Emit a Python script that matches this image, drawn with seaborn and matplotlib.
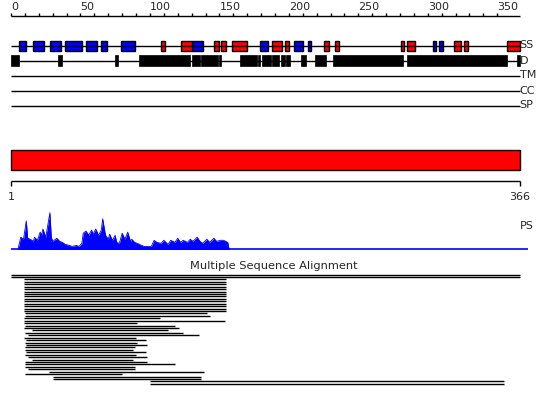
import matplotlib
matplotlib.use("Agg")
import matplotlib.pyplot as plt
import seaborn as sns
import pandas as pd
from matplotlib.patches import Rectangle

SEQ_LEN = 366
track_names = ["SS", "D", "TM", "CC", "SP"]

# secondary structure (start, end) in residues
helix = [(108, 111), (122, 130), (146, 150), (151, 155), (159, 170), (188, 195),
         (197, 200), (225, 229), (233, 236), (281, 283), (285, 291), (319, 324),
         (326, 329), (357, 366)]
strand = [(6, 11), (16, 24), (28, 36), (39, 51), (54, 62), (65, 69), (79, 89),
          (130, 138), (179, 185), (204, 210), (214, 216), (304, 306), (308, 311)]
disorder = [(0, 6), (34, 37), (75, 77), (92, 129), (130, 136), (137, 149), (150, 151),
            (165, 177), (178, 179), (181, 187), (188, 193), (194, 197), (198, 201),
            (209, 212), (219, 227), (232, 282), (285, 357), (364, 366)]

ps_res = [5, 7, 9, 11, 12, 14, 16, 17, 19, 21, 22, 23, 25, 28, 29, 30, 33, 35, 37, 39,
          42, 44, 47, 49, 51, 52, 54, 56, 58, 59, 61, 63, 65, 66, 68, 70, 71, 73, 75, 76,
          78, 80, 82, 84, 86, 87, 89, 91, 94, 96, 99, 101, 103, 105, 108, 110, 113, 115,
          118, 120, 122, 124, 127, 129, 131, 134, 136, 138, 141, 143, 146, 148, 151, 153,
          156, 157]
ps_val = [0, 12, 10, 28, 11, 10, 8, 12, 9, 17, 14, 20, 12, 36, 12, 8, 11, 8, 7, 5,
          4, 3, 4, 3, 6, 16, 18, 14, 19, 15, 20, 14, 19, 30, 14, 10, 15, 9, 14, 7,
          6, 16, 10, 17, 8, 10, 7, 6, 4, 3, 3, 3, 9, 7, 6, 9, 5, 9, 7, 11,
          7, 9, 7, 10, 8, 12, 8, 6, 10, 7, 11, 8, 9, 9, 7, 0]

msa_start = [0, 0] + [9] * 14 + [10, 10, 9, 9, 9, 10, 9, 15, 10, 12, 9, 11, 10, 11, 10,
                                  10, 11, 10, 12, 15, 10, 10, 10, 12, 27, 10, 30, 30, 100, 100]
msa_end = [366, 366] + [155] * 14 + [141, 143, 107, 154, 91, 118, 121, 113, 124, 135,
                                     90, 97, 91, 98, 89, 88, 97, 90, 98, 88, 98, 118,
                                     89, 89, 139, 80, 137, 137, 355, 355]

sns.set_theme(style="white")
plt.rcParams["font.family"] = ["DejaVu Sans"]
FS = 8

W, H = 550, 405
fig = plt.figure(figsize=(W / 100, H / 100), dpi=100)

# one canvas axes in residue x / pixel-row y
x0_px, scale = 11, 508.5 / SEQ_LEN
ax = fig.add_axes([0, 0, 1, 1])
ax.set_xlim(-x0_px / scale, (W - x0_px) / scale)
ax.set_ylim(H, 0)
ax.axis("off")

# top ruler
ruler_y = 15.5
ax.hlines(ruler_y, 0, SEQ_LEN, color="black", lw=1)
for t in range(0, 351, 10):
    ax.vlines(t, ruler_y - 3, ruler_y, color="black", lw=1)
    if t % 50 == 0:
        ax.text(t, ruler_y - 4, str(t), ha="left", va="bottom", fontsize=FS)

# feature tracks
track_y = {"SS": 45.5, "D": 60.5, "TM": 75.5, "CC": 90.5, "SP": 105.5}
for name in track_names:
    y = track_y[name]
    ax.hlines(y, 0, SEQ_LEN, color="black", lw=1)
    ax.text(SEQ_LEN, y, name, ha="left", va="center", fontsize=FS)

for segs, col in [(strand, "#0000ff"), (helix, "#ff0000")]:
    for s, e in segs:
        ax.add_patch(Rectangle((s, track_y["SS"] - 5), e - s, 10,
                               facecolor=col, edgecolor="black", lw=1))
for s, e in disorder:
    ax.add_patch(Rectangle((s, track_y["D"] - 5.3), e - s, 10.6,
                           facecolor="black", edgecolor="black", lw=0.5))

# domain bar
ax.add_patch(Rectangle((0, 150), SEQ_LEN, 20, facecolor="#ff0000", edgecolor="black", lw=1))
ax.hlines(181, 0, SEQ_LEN, color="black", lw=1)
for t in [0, SEQ_LEN]:
    ax.vlines(t, 181, 186, color="black", lw=1)
ax.text(0, 197, "1", ha="center", va="center", fontsize=FS)
ax.text(SEQ_LEN, 197, "366", ha="center", va="center", fontsize=FS)

# PS profile on its own axes
ps = pd.DataFrame({"res": ps_res, "val": ps_val})
axp = fig.add_axes([x0_px / W, 1 - 249.5 / H, 508.5 / W, 45 / H])
axp.set_xlim(0, SEQ_LEN)
axp.set_ylim(0, 44)
axp.axis("off")
axp.fill_between(ps["res"], ps["val"], color="#0000ff", lw=0)
sns.lineplot(data=ps, x="res", y="val", ax=axp, color="#0000ff", lw=0.6)
axp.hlines(0.5, 0, 372, color="#0000ff", lw=1.2, clip_on=False)
ax.text(SEQ_LEN, 226, "PS", ha="left", va="center", fontsize=FS)

# multiple sequence alignment
ax.text(189, 266, "Multiple Sequence Alignment", ha="center", va="center", fontsize=FS + 0.2)
row_y = 274.5
for i, (s, e) in enumerate(zip(msa_start, msa_end)):
    y = row_y + i * 2.43
    ax.hlines(y, s, e, color="black", lw=1)

fig.savefig("out.png", dpi=100, facecolor="white")
